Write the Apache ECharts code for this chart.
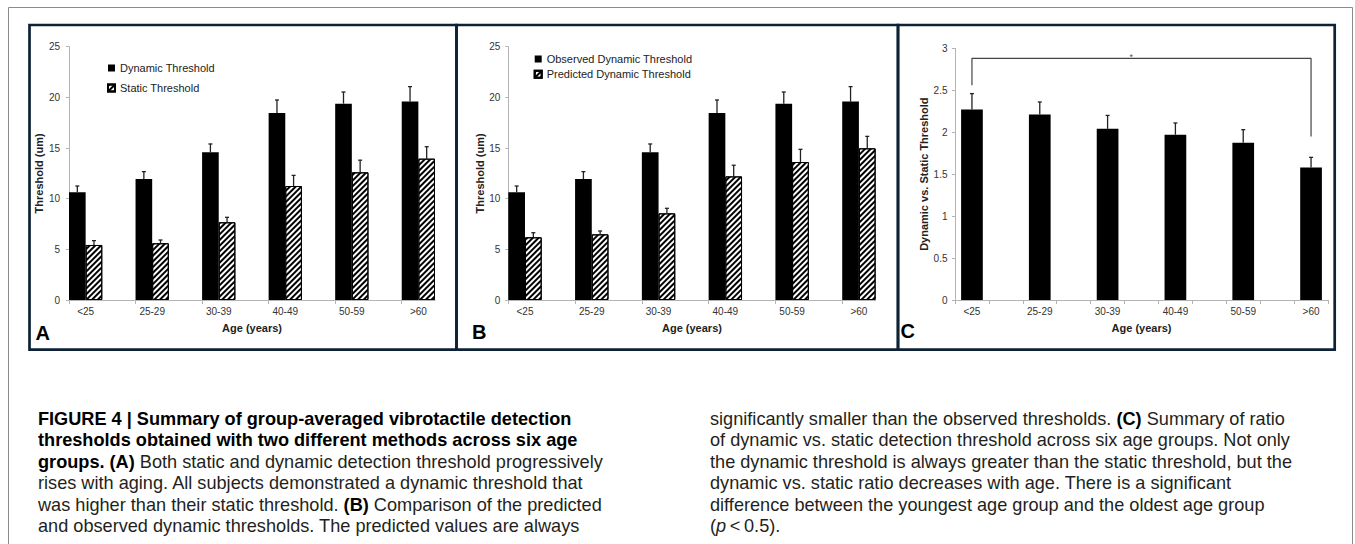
<!DOCTYPE html>
<html><head><meta charset="utf-8">
<script src="https://cdn.jsdelivr.net/npm/echarts@6/dist/echarts.min.js"></script>
<style>
html,body{margin:0;padding:0;background:#fff;}
#wrap{position:relative;width:1355px;height:544px;overflow:hidden;background:#fff;}
#chart{position:absolute;left:0;top:0;width:1355px;height:544px;}
.cap{position:absolute;white-space:nowrap;font-family:'Liberation Sans',Arial,sans-serif;font-size:19px;line-height:21.4px;color:#231f20;transform-origin:0 0;transform:scaleX(0.955);}
.cap b{font-weight:bold;color:#000;}
</style></head><body>
<div id="wrap"><div id="chart"></div>
<div class="cap" style="left:38px;top:408px">
<b>FIGURE 4 | Summary of group-averaged vibrotactile detection</b><br>
<b>thresholds obtained with two different methods across six age</b><br>
<b>groups. (A)</b> Both static and dynamic detection threshold progressively<br>
rises with aging. All subjects demonstrated a dynamic threshold that<br>
was higher than their static threshold. <b>(B)</b> Comparison of the predicted<br>
and observed dynamic thresholds. The predicted values are always
</div>
<div class="cap" style="left:710px;top:408px">
significantly smaller than the observed thresholds. <b>(C)</b> Summary of ratio<br>
of dynamic vs. static detection threshold across six age groups. Not only<br>
the dynamic threshold is always greater than the static threshold, but the<br>
dynamic vs. static ratio decreases with age. There is a significant<br>
difference between the youngest age group and the oldest age group<br>
(<i>p</i>&thinsp;&lt;&thinsp;0.5).
</div>
</div>
<script>
// ---- data ----
const categories = ['<25', '25-29', '30-39', '40-49', '50-59', '>60'];
// Panel A
const dynamicThreshold = [10.63, 11.94, 14.58, 18.46, 19.38, 19.58];
const dynamicError     = [0.62, 0.73, 0.82, 1.28, 1.15, 1.48];
const staticThreshold  = [5.43, 5.60, 7.67, 11.25, 12.60, 13.95];
const staticError      = [0.43, 0.32, 0.49, 1.05, 1.20, 1.18];
// Panel B
const observedDynamic  = [10.63, 11.94, 14.58, 18.46, 19.38, 19.58];
const observedError    = [0.62, 0.73, 0.82, 1.28, 1.15, 1.48];
const predictedDynamic = [6.19, 6.48, 8.55, 12.20, 13.62, 14.97];
const predictedError   = [0.45, 0.33, 0.50, 1.10, 1.25, 1.18];
// Panel C
const ratio      = [2.27, 2.21, 2.04, 1.97, 1.875, 1.58];
const ratioError = [0.19, 0.15, 0.16, 0.14, 0.155, 0.12];
const bracket    = [[0, 2.56], [0, 2.88], [5, 2.88], [5, 1.95]];
const starPoint  = [[2.35, 2.90]];
const yTicksAB = [0, 5, 10, 15, 20, 25];
const yTicksC  = [0, 0.5, 1, 1.5, 2, 2.5, 3];

// ---- chart ----
const FONT = 'Liberation Sans, Arial, sans-serif';
const AXC = '#b4b4b4';
const HATCH = {symbol: 'rect', symbolSize: 1, dashArrayX: [1, 0], dashArrayY: [1.2, 1.6], rotation: -Math.PI / 4, color: '#000', backgroundColor: '#fff'};
const catIdx = categories.map((c, i) => i);
const ticksAB = catIdx.map(i => i - 0.25);
const ticksC = catIdx.flatMap(i => [i - 0.25, i + 0.25]);

function xAx(gi, ticks) {
  return {
    type: 'value', gridIndex: gi, min: -0.25, max: 5.25,
    axisLine: {show: true, onZero: false, lineStyle: {color: AXC, width: 1}},
    axisTick: {show: true, customValues: ticks, length: 4, lineStyle: {color: AXC}},
    axisLabel: {customValues: catIdx, formatter: v => categories[Math.round(v)], fontSize: 10, color: '#333', margin: 6, fontFamily: FONT},
    splitLine: {show: false},
    name: 'Age (years)', nameLocation: 'middle', nameGap: 22,
    nameTextStyle: {fontSize: 11, fontWeight: 'bold', color: '#222', fontFamily: FONT}
  };
}
function yAx(gi, ticks, name, gap, margin) {
  return {
    type: 'value', gridIndex: gi, min: ticks[0], max: ticks[ticks.length - 1], interval: ticks[1] - ticks[0],
    axisLine: {show: true, onZero: false, lineStyle: {color: AXC, width: 1}},
    axisTick: {show: true, length: 3, lineStyle: {color: AXC}},
    axisLabel: {fontSize: 10, color: '#333', margin: margin, fontFamily: FONT},
    splitLine: {show: false},
    name: name, nameLocation: 'middle', nameGap: gap,
    nameTextStyle: {fontSize: 11, fontWeight: 'bold', color: '#222', fontFamily: FONT}
  };
}
function barS(gi, name, vals, width, style) {
  return {type: 'bar', name: name, xAxisIndex: gi, yAxisIndex: gi, data: vals.map((v, i) => [i, v]),
    barWidth: width, barGap: '0%', itemStyle: style, silent: true, z: 2};
}
function errS(gi, vals, errs, offset) {
  return {
    type: 'custom', xAxisIndex: gi, yAxisIndex: gi, z: 5, silent: true,
    data: vals.map((v, i) => [i, v, v + errs[i]]),
    renderItem: function (params, api) {
      const x = api.value(0) + offset;
      const p0 = api.coord([x, api.value(1)]);
      const p1 = api.coord([x, api.value(2)]);
      const st = {stroke: '#222', lineWidth: 1.3};
      return {type: 'group', children: [
        {type: 'line', shape: {x1: p0[0], y1: p0[1], x2: p1[0], y2: p1[1]}, style: st},
        {type: 'line', shape: {x1: p1[0] - 2, y1: p1[1], x2: p1[0] + 2, y2: p1[1]}, style: st}
      ]};
    }
  };
}
const solid = {color: '#000'};
const hatched = {color: '#fff', borderColor: '#000', borderWidth: 1, decal: HATCH};
const legendBase = {orient: 'vertical', itemWidth: 7, itemHeight: 7, icon: 'rect', selectedMode: false,
  textStyle: {fontSize: 11, color: '#222', fontFamily: FONT}};
const frame = {fill: 'none', stroke: '#0e2236', lineWidth: 2.7};
const letter = (t, x, y) => ({type: 'text', x: x, y: y, z: 10,
  style: {text: t, fontSize: 20, fontWeight: 'bold', fontFamily: FONT, fill: '#000', verticalAlign: 'middle', align: 'left'}});

const option = {
  animation: false,
  backgroundColor: 'transparent',
  grid: [
    {left: 69, top: 46.7, width: 366, height: 253.3},
    {left: 508.3, top: 46.7, width: 367.3, height: 253.3},
    {left: 955, top: 48.3, width: 373, height: 251.7}
  ],
  xAxis: [xAx(0, ticksAB), xAx(1, ticksAB), xAx(2, ticksC)],
  yAxis: [yAx(0, yTicksAB, 'Threshold (um)', 21, 9), yAx(1, yTicksAB, 'Threshold (um)', 21, 8), yAx(2, yTicksC, 'Dynamic vs. Static Threshold', 23.5, 7.5)],
  legend: [
    Object.assign({}, legendBase, {data: ['Dynamic Threshold', 'Static Threshold'], left: 102, top: 57.5, itemGap: 9}),
    Object.assign({}, legendBase, {data: ['Observed Dynamic Threshold', 'Predicted Dynamic Threshold'], left: 528.7, top: 48.5, itemGap: 4.3})
  ],
  series: [
    barS(0, 'Dynamic Threshold', dynamicThreshold, '25%', solid),
    barS(0, 'Static Threshold', staticThreshold, '25%', hatched),
    errS(0, dynamicThreshold, dynamicError, -0.125),
    errS(0, staticThreshold, staticError, 0.125),
    barS(1, 'Observed Dynamic Threshold', observedDynamic, '25%', solid),
    barS(1, 'Predicted Dynamic Threshold', predictedDynamic, '25%', hatched),
    errS(1, observedDynamic, observedError, -0.125),
    errS(1, predictedDynamic, predictedError, 0.125),
    barS(2, 'Dynamic vs. Static Ratio', ratio, '32%', solid),
    errS(2, ratio, ratioError, 0),
    {type: 'line', xAxisIndex: 2, yAxisIndex: 2, data: bracket, symbol: 'none', silent: true, z: 4,
      lineStyle: {color: '#444', width: 1.2}},
    {type: 'scatter', xAxisIndex: 2, yAxisIndex: 2, data: starPoint, symbolSize: 0, silent: true, z: 4,
      label: {show: true, position: 'inside', formatter: '*', fontSize: 9, color: '#222', fontFamily: FONT}}
  ],
  graphic: [
    {type: 'rect', silent: true, z: 0, shape: {x: 8.5, y: 7.5, width: 1344, height: 600}, style: {fill: 'none', stroke: '#8a8a8a', lineWidth: 1}},
    {type: 'rect', silent: true, z: 10, shape: {x: 29.5, y: 25, width: 427, height: 324.7}, style: frame},
    {type: 'rect', silent: true, z: 10, shape: {x: 456.5, y: 25, width: 441.5, height: 324.7}, style: frame},
    {type: 'rect', silent: true, z: 10, shape: {x: 898, y: 25, width: 436.7, height: 324.7}, style: frame},
    letter('A', 35.5, 333.3),
    letter('B', 472, 332),
    letter('C', 900.5, 330.5)
  ]
};
const chart = echarts.init(document.getElementById('chart'), null, {renderer: 'svg'});
chart.setOption(option);
</script>
</body></html>
